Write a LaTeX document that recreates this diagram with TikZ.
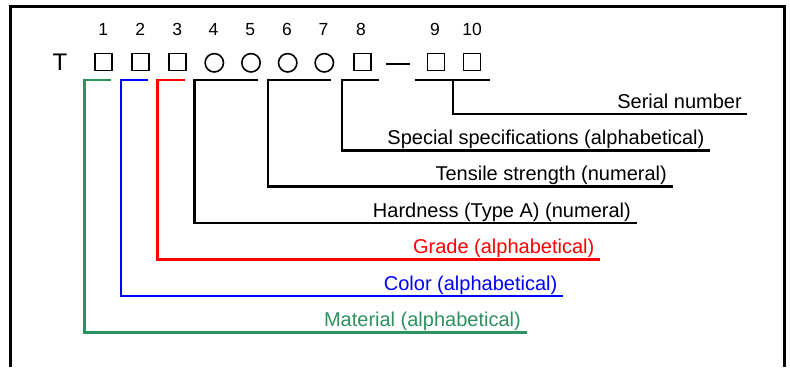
\documentclass[tikz,border=0pt]{standalone}
\usepackage{fontspec}
\setmainfont{Liberation Sans}
\definecolor{mgreen}{RGB}{46,145,96}
\begin{document}
\begin{tikzpicture}[x=1pt,y=-1pt,line join=miter,
  lbl/.style={anchor=base east,inner sep=0pt,font=\fontsize{20}{24}\selectfont},
  num/.style={anchor=base,inner sep=0pt,font=\fontsize{17.5}{20}\selectfont},
  sq/.style={draw,rectangle,line width=1.5pt,minimum size=17pt,inner sep=0pt},
  circ/.style={draw,circle,line width=1.6pt,minimum size=18.4pt,inner sep=0pt},
  brk/.style={line width=2.8pt}]
\useasboundingbox (0,0) rectangle (790,367);
% frame
\coordinate (fbl) at (10,367);
\coordinate (ftl) at (10,6.5);
\coordinate (ftr) at (784.3,6.5);
\coordinate (fbr) at (784.3,367);
\draw[line width=3pt] (fbl) -- (ftl) -- (ftr) -- (fbr);
% code line
\node[anchor=base,inner sep=0pt,font=\fontsize{24}{28}\selectfont] (T) at (60,70) {T};
\node[sq] (s1) at (103.3,62.2) {};
\node[sq] (s2) at (140.3,62.2) {};
\node[sq] (s3) at (177.5,62.2) {};
\node[circ] (s4) at (214.3,62.8) {};
\node[circ] (s5) at (251,62.8) {};
\node[circ] (s6) at (287.7,62.8) {};
\node[circ] (s7) at (324.3,62.8) {};
\node[sq] (s8) at (362.5,62.2) {};
\coordinate (d1) at (386,64);
\coordinate (d2) at (410,64);
\draw[line width=1.5pt] (d1) -- (d2);
\node[sq] (s9) at (435.8,62.2) {};
\node[sq] (s10) at (472.2,62.2) {};
% numbers
\node[num] (n1) at (103.3,35) {1};
\node[num] (n2) at (140.3,35) {2};
\node[num] (n3) at (177.3,35) {3};
\node[num] (n4) at (213.5,35) {4};
\node[num] (n5) at (250.3,35) {5};
\node[num] (n6) at (287,35) {6};
\node[num] (n7) at (323.5,35) {7};
\node[num] (n8) at (361,35) {8};
\node[num] (n9) at (435,35) {9};
\node[num] (n10) at (472,35) {10};
% label nodes
\node[lbl] (l1) at (742,108) {Serial number};
\node[lbl] (l2) at (704.5,144.3) {Special specifications (alphabetical)};
\node[lbl] (l3) at (667,180.7) {Tensile strength (numeral)};
\node[lbl] (l4) at (631,217) {Hardness (Type A) (numeral)};
\node[lbl,text=red] (l5) at (594.5,253.5) {Grade (alphabetical)};
\node[lbl,text=blue] (l6) at (557.5,290) {Color (alphabetical)};
\node[lbl,text=mgreen] (l7) at (521,326.3) {Material (alphabetical)};
% brackets
\coordinate (a1) at (415,80); \coordinate (b1) at (490,80);
\coordinate (c1) at (453,80); \coordinate (e1) at (453,114); \coordinate (f1) at (747,114);
\draw[brk] (a1) -- (b1);
\draw[brk] (c1) -- (e1) -- (f1);
\coordinate (a2) at (379,80); \coordinate (c2) at (342,80); \coordinate (e2) at (342,150.3); \coordinate (f2) at (710,150.3);
\draw[brk] (a2) -- (c2) -- (e2) -- (f2);
\coordinate (a3) at (331,80); \coordinate (c3) at (268,80); \coordinate (e3) at (268,186.7); \coordinate (f3) at (673,186.7);
\draw[brk] (a3) -- (c3) -- (e3) -- (f3);
\coordinate (a4) at (258,80); \coordinate (c4) at (194.5,80); \coordinate (e4) at (194.5,223); \coordinate (f4) at (637,223);
\draw[brk] (a4) -- (c4) -- (e4) -- (f4);
\coordinate (a5) at (185,80); \coordinate (c5) at (157.3,80); \coordinate (e5) at (157.3,259.5); \coordinate (f5) at (600,259.5);
\draw[brk,red] (a5) -- (c5) -- (e5) -- (f5);
\coordinate (a6) at (147.5,80); \coordinate (c6) at (121,80); \coordinate (e6) at (121,296); \coordinate (f6) at (563,296);
\draw[brk,blue] (a6) -- (c6) -- (e6) -- (f6);
\coordinate (a7) at (111,80); \coordinate (c7) at (84.5,80); \coordinate (e7) at (84.5,332.3); \coordinate (f7) at (527,332.3);
\draw[brk,mgreen] (a7) -- (c7) -- (e7) -- (f7);
\end{tikzpicture}
\end{document}
